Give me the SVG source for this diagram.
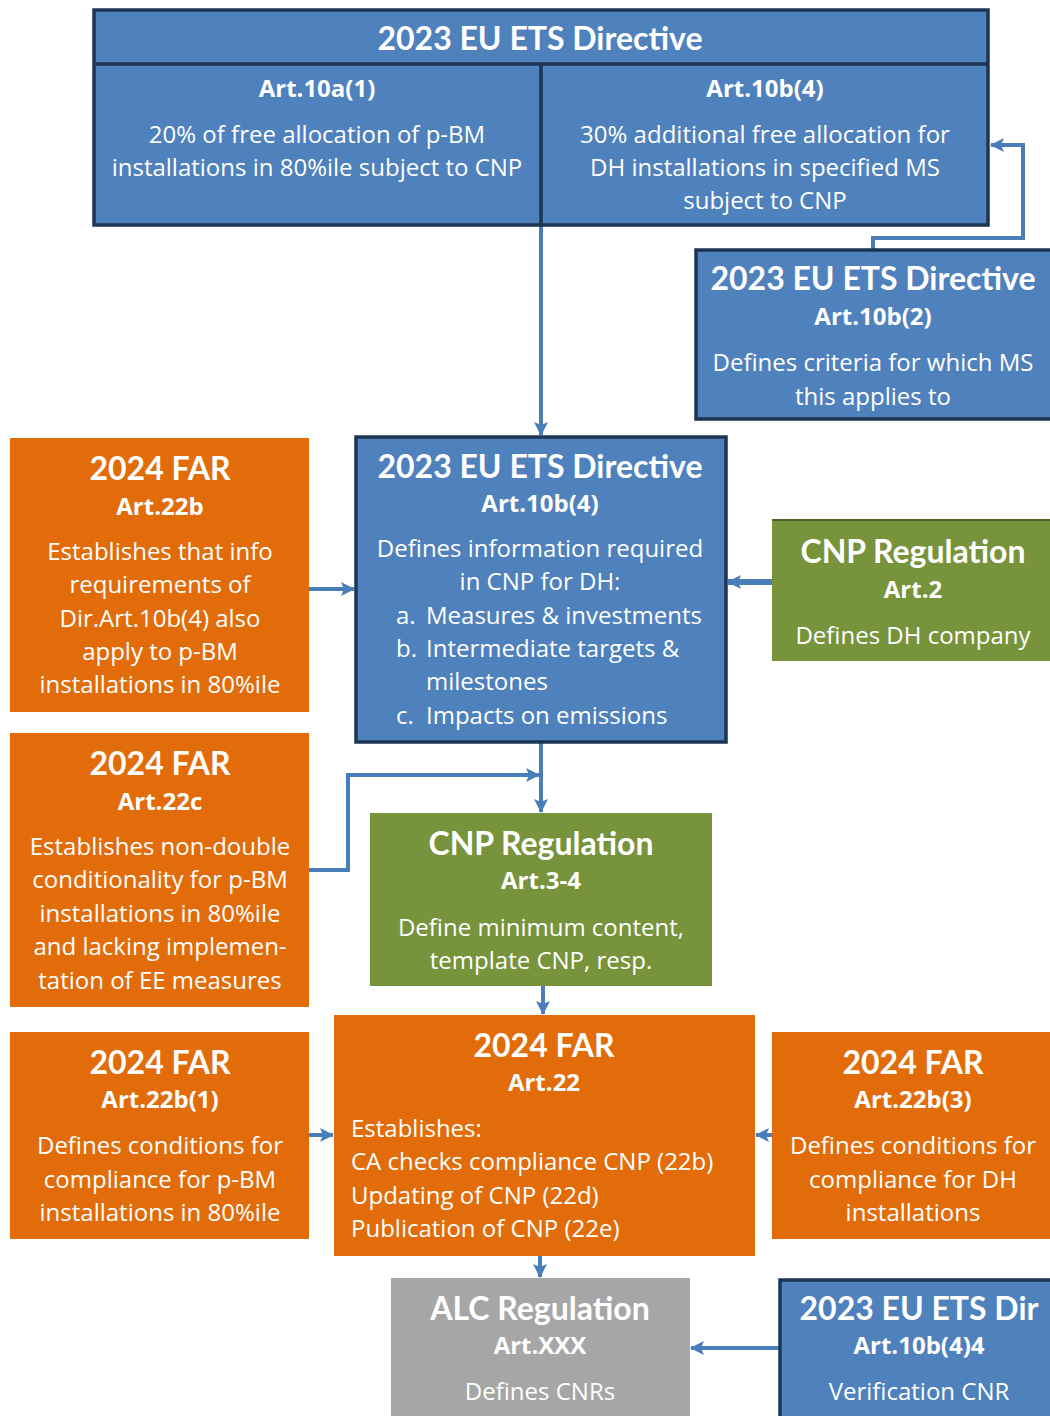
<svg xmlns="http://www.w3.org/2000/svg" width="1050" height="1416" viewBox="0 0 1050 1416">
<style>
text{font-family:"Open Sans","Liberation Sans",sans-serif;fill:#fff;text-anchor:middle}
.h{font-family:Lato,"Open Sans",sans-serif;font-size:32px;font-weight:bold}
.s{font-size:24px;font-weight:bold}
.b{font-size:24px}
.l{text-anchor:start}
.blue{fill:#4F81BD;stroke:#1C3553;stroke-width:3.5}
.or{fill:#E36C0A}
.gr{fill:#77933C}
.gy{fill:#A6A6A6}
.c{fill:none;stroke:#4A7EBB;stroke-width:4}
</style>
<defs>
<marker id="a" markerUnits="userSpaceOnUse" markerWidth="14" markerHeight="14" refX="13" refY="7" orient="auto">
<path d="M0,0 L14,7 L0,14 L3,7 Z" fill="#4A7EBB"/>
</marker>
</defs>
<rect width="1050" height="1416" fill="#fff"/>
<g id="connectors">
<path class="c" d="M541,225 V435" marker-end="url(#a)"/>
<path class="c" d="M873,249 V238 H1023 V145 H991" marker-end="url(#a)"/>
<path class="c" d="M309,589 H354" marker-end="url(#a)"/>
<path class="c" d="M772,582 H728" style="stroke-width:6" marker-end="url(#a)"/>
<path class="c" d="M309,870 H348 V775 H539" marker-end="url(#a)"/>
<path class="c" d="M541,742 V812" marker-end="url(#a)"/>
<path class="c" d="M543,986 V1014" marker-end="url(#a)"/>
<path class="c" d="M309,1135 H333" marker-end="url(#a)"/>
<path class="c" d="M772,1135 H756" marker-end="url(#a)"/>
<path class="c" d="M540,1256 V1277" marker-end="url(#a)"/>
<path class="c" d="M779,1348 H691" marker-end="url(#a)"/>
</g>
<g id="top">
<rect class="blue" x="94" y="10" width="894" height="215"/>
<line x1="94" y1="64" x2="988" y2="64" stroke="#1C3553" stroke-width="3.5"/>
<line x1="541" y1="64" x2="541" y2="225" stroke="#1C3553" stroke-width="3.5"/>
<text class="h" x="540" y="50">2023 EU ETS Directive</text>
<text class="s" x="317" y="97">Art.10a(1)</text>
<text class="b" x="317" y="143">20% of free allocation of p-BM</text>
<text class="b" x="317" y="176">installations in 80%ile subject to CNP</text>
<text class="s" x="765" y="97">Art.10b(4)</text>
<text class="b" x="765" y="143">30% additional free allocation for</text>
<text class="b" x="765" y="176">DH installations in specified MS</text>
<text class="b" x="765" y="209">subject to CNP</text>
</g>
<g id="dir10b2">
<rect class="blue" x="696" y="250" width="360" height="169"/>
<text class="h" x="873" y="290">2023 EU ETS Directive</text>
<text class="s" x="873" y="325">Art.10b(2)</text>
<text class="b" x="873" y="371">Defines criteria for which MS</text>
<text class="b" x="873" y="405">this applies to</text>
</g>
<g id="dir10b4">
<rect class="blue" x="356" y="437" width="370" height="305"/>
<text class="h" x="540" y="478">2023 EU ETS Directive</text>
<text class="s" x="540" y="512">Art.10b(4)</text>
<text class="b" x="540" y="557">Defines information required</text>
<text class="b" x="540" y="590">in CNP for DH:</text>
<text class="b l" x="396" y="624">a.</text><text class="b l" x="426" y="624">Measures &amp; investments</text>
<text class="b l" x="396" y="657">b.</text><text class="b l" x="426" y="657">Intermediate targets &amp;</text>
<text class="b l" x="426" y="690">milestones</text>
<text class="b l" x="396" y="724">c.</text><text class="b l" x="426" y="724">Impacts on emissions</text>
</g>
<g id="far22b">
<rect class="or" x="10" y="438" width="299" height="274"/>
<text class="h" x="160" y="480">2024 FAR</text>
<text class="s" x="160" y="515">Art.22b</text>
<text class="b" x="160" y="560">Establishes that info</text>
<text class="b" x="160" y="593">requirements of</text>
<text class="b" x="160" y="627">Dir.Art.10b(4) also</text>
<text class="b" x="160" y="660">apply to p-BM</text>
<text class="b" x="160" y="693">installations in 80%ile</text>
</g>
<g id="cnp2">
<rect class="gr" x="772" y="520" width="285" height="141"/>
<line x1="772" y1="520" x2="1050" y2="520" stroke="#4F6228" stroke-width="2"/>
<text class="h" x="913" y="563">CNP Regulation</text>
<text class="s" x="913" y="598">Art.2</text>
<text class="b" x="913" y="644">Defines DH company</text>
</g>
<g id="far22c">
<rect class="or" x="10" y="733" width="299" height="274"/>
<text class="h" x="160" y="775">2024 FAR</text>
<text class="s" x="160" y="810">Art.22c</text>
<text class="b" x="160" y="855">Establishes non-double</text>
<text class="b" x="160" y="888">conditionality for p-BM</text>
<text class="b" x="160" y="922">installations in 80%ile</text>
<text class="b" x="160" y="955">and lacking implemen-</text>
<text class="b" x="160" y="989">tation of EE measures</text>
</g>
<g id="cnp34">
<rect class="gr" x="370" y="813" width="342" height="173"/>
<text class="h" x="541" y="855">CNP Regulation</text>
<text class="s" x="541" y="889">Art.3-4</text>
<text class="b" x="541" y="936">Define minimum content,</text>
<text class="b" x="541" y="969">template CNP, resp.</text>
</g>
<g id="far22">
<rect class="or" x="334" y="1015" width="421" height="241"/>
<text class="h" x="544" y="1057">2024 FAR</text>
<text class="s" x="544" y="1091">Art.22</text>
<text class="b l" x="351" y="1137">Establishes:</text>
<text class="b l" x="351" y="1170">CA checks compliance CNP (22b)</text>
<text class="b l" x="351" y="1204">Updating of CNP (22d)</text>
<text class="b l" x="351" y="1237">Publication of CNP (22e)</text>
</g>
<g id="far22b1">
<rect class="or" x="10" y="1032" width="299" height="207"/>
<text class="h" x="160" y="1074">2024 FAR</text>
<text class="s" x="160" y="1108">Art.22b(1)</text>
<text class="b" x="160" y="1154">Defines conditions for</text>
<text class="b" x="160" y="1188">compliance for p-BM</text>
<text class="b" x="160" y="1221">installations in 80%ile</text>
</g>
<g id="far22b3">
<rect class="or" x="772" y="1032" width="285" height="207"/>
<text class="h" x="913" y="1074">2024 FAR</text>
<text class="s" x="913" y="1108">Art.22b(3)</text>
<text class="b" x="913" y="1154">Defines conditions for</text>
<text class="b" x="913" y="1188">compliance for DH</text>
<text class="b" x="913" y="1221">installations</text>
</g>
<g id="alc">
<rect class="gy" x="391" y="1278" width="299" height="145"/>
<text class="h" x="540" y="1320">ALC Regulation</text>
<text class="s" x="540" y="1354">Art.XXX</text>
<text class="b" x="540" y="1400">Defines CNRs</text>
</g>
<g id="dir10b44">
<rect class="blue" x="780" y="1280" width="280" height="145"/>
<text class="h" x="919" y="1320">2023 EU ETS Dir</text>
<text class="s" x="919" y="1354">Art.10b(4)4</text>
<text class="b" x="919" y="1400">Verification CNR</text>
</g>
</svg>
